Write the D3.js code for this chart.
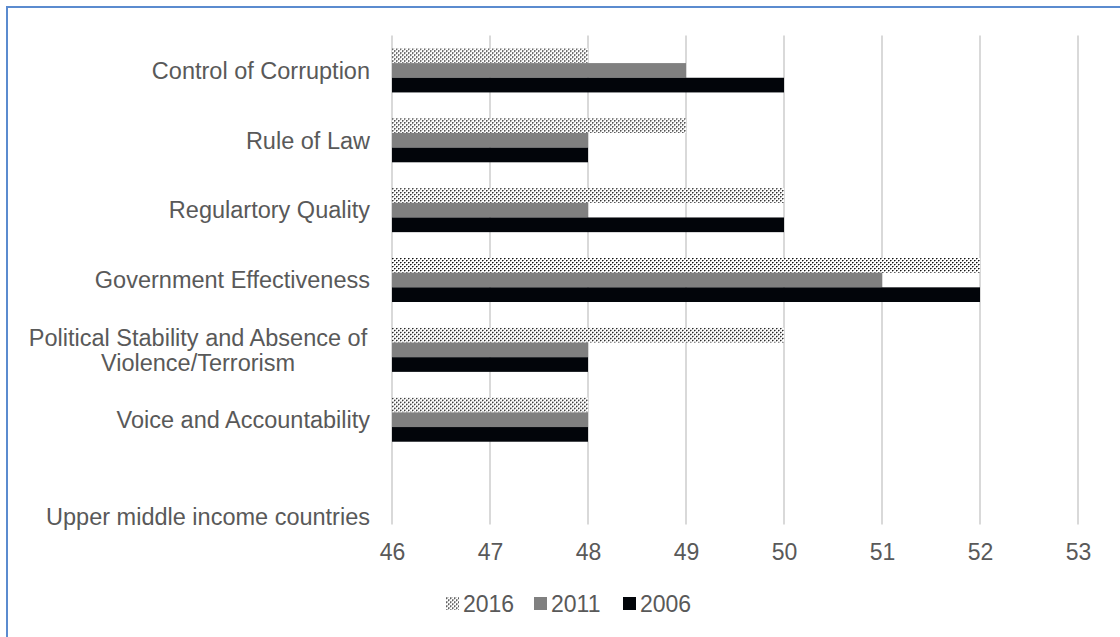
<!DOCTYPE html>
<html>
<head>
<meta charset="utf-8">
<script src="https://cdn.jsdelivr.net/npm/d3@7/dist/d3.min.js"></script>
<style>
  html, body { margin: 0; padding: 0; background: #fff; }
  svg { display: block; }
  text { font-family: "Liberation Sans", Arial, sans-serif; fill: #595959; }
</style>
</head>
<body>
<svg id="chart" width="1120" height="637"></svg>
<script>
// Governance indicator ranks by year
const categories = [
  "Control of Corruption",
  "Rule of Law",
  "Regulartory Quality",
  "Government Effectiveness",
  "Political Stability and Absence of Violence/Terrorism",
  "Voice and Accountability",
  "Upper middle income countries"
];
const years = ["2016", "2011", "2006"];
const values2016 = [48, 49, 50, 52, 50, 48, null];
const values2011 = [49, 48, 48, 51, 48, 48, null];
const values2006 = [50, 48, 50, 52, 48, 48, null];
const xTicks = [46, 47, 48, 49, 50, 51, 52, 53];

const seriesValues = { "2016": values2016, "2011": values2011, "2006": values2006 };
const fills = { "2016": "url(#dots)", "2011": "#808080", "2006": "#02050a" };

const svg = d3.select("#chart");
const W = 1120, H = 637;
const FONT = 23;
const LABEL_FONT = 23.5;

// dotted fill for the 2016 series
const defs = svg.append("defs");
const pat = defs.append("pattern")
  .attr("id", "dots")
  .attr("patternUnits", "userSpaceOnUse")
  .attr("width", 4).attr("height", 4);
pat.append("rect").attr("width", 4).attr("height", 4).attr("fill", "#fff");
pat.append("rect").attr("x", 0).attr("y", 0).attr("width", 1).attr("height", 1).attr("fill", "#111");
pat.append("rect").attr("x", 2).attr("y", 2).attr("width", 1).attr("height", 1).attr("fill", "#111");
pat.append("rect").attr("x", 1).attr("y", 0).attr("width", 1).attr("height", 1).attr("fill", "#777");
pat.append("rect").attr("x", 3).attr("y", 2).attr("width", 1).attr("height", 1).attr("fill", "#777");
pat.append("rect").attr("x", 0).attr("y", 1).attr("width", 1).attr("height", 1).attr("fill", "#aaa");
pat.append("rect").attr("x", 2).attr("y", 3).attr("width", 1).attr("height", 1).attr("fill", "#aaa");

// outer frame (top and left edges visible)
svg.append("path")
  .attr("d", `M7,${H} L7,7 L${W},7`)
  .attr("fill", "none")
  .attr("stroke", "#5b8bcf")
  .attr("stroke-width", 2);

const plot = { left: 392, right: 1078, top: 35.5, bottom: 524.5 };

const x = d3.scaleLinear().domain([46, 53]).range([plot.left, plot.right]);
const y = d3.scaleBand().domain(categories).range([plot.top, plot.bottom]).paddingInner(0.37).paddingOuter(0.185);
const ySub = d3.scaleBand().domain(years).range([0, y.bandwidth()]);

// vertical gridlines
svg.append("g")
  .selectAll("line")
  .data(xTicks)
  .join("line")
  .attr("x1", d => x(d)).attr("x2", d => x(d))
  .attr("y1", plot.top).attr("y2", plot.bottom)
  .attr("stroke", "#d9d9d9")
  .attr("stroke-width", 2);

// bars
const groups = svg.append("g")
  .selectAll("g")
  .data(categories)
  .join("g")
  .attr("transform", d => `translate(0,${y(d)})`);

groups.selectAll("rect")
  .data((c, i) => years.map(yr => ({ yr, v: seriesValues[yr][i] })).filter(d => d.v != null))
  .join("rect")
  .attr("x", x(46))
  .attr("y", d => ySub(d.yr))
  .attr("width", d => x(d.v) - x(46))
  .attr("height", ySub.bandwidth())
  .attr("fill", d => fills[d.yr]);

// x axis tick labels
const xAxis = d3.axisBottom(x).tickValues(xTicks).tickSize(0).tickPadding(0).tickFormat(d3.format("d"));
const xg = svg.append("g").attr("transform", `translate(0,${plot.bottom + 27})`).call(xAxis);
xg.select(".domain").remove();
xg.selectAll("text")
  .attr("font-size", FONT)
  .attr("font-family", "Liberation Sans, Arial, sans-serif")
  .attr("fill", "#595959")
  .attr("dy", "0.35em");

// category labels (wrapped where the text is long; the empty last category sits lower)
const labelLines = {
  "Political Stability and Absence of Violence/Terrorism": ["Political Stability and Absence of", "Violence/Terrorism"]
};
const labelShift = { "Upper middle income countries": 27 };
const yg = svg.append("g");
categories.forEach(c => {
  const lines = labelLines[c] || [c];
  const cy = y(c) + y.bandwidth() / 2 + (labelShift[c] || 0);
  const lh = 25;
  const multi = lines.length > 1;
  const t = yg.append("text")
    .attr("text-anchor", multi ? "middle" : "end")
    .attr("font-size", LABEL_FONT);
  lines.forEach((ln, k) => {
    t.append("tspan")
      .attr("x", multi ? 198 : 370)
      .attr("y", cy + (k - (lines.length - 1) / 2) * lh)
      .attr("dy", "0.35em")
      .text(ln);
  });
});

// legend
const legendItems = [
  { yr: "2016", x: 446 },
  { yr: "2011", x: 534 },
  { yr: "2006", x: 623 }
];
const lg = svg.append("g").attr("transform", "translate(0,603.5)");
legendItems.forEach(it => {
  lg.append("rect")
    .attr("x", it.x).attr("y", -6.5)
    .attr("width", 13).attr("height", 13)
    .attr("fill", fills[it.yr]);
  lg.append("text")
    .attr("x", it.x + 17).attr("y", 0)
    .attr("dy", "0.35em")
    .attr("font-size", FONT)
    .text(it.yr);
});
</script>
</body>
</html>
